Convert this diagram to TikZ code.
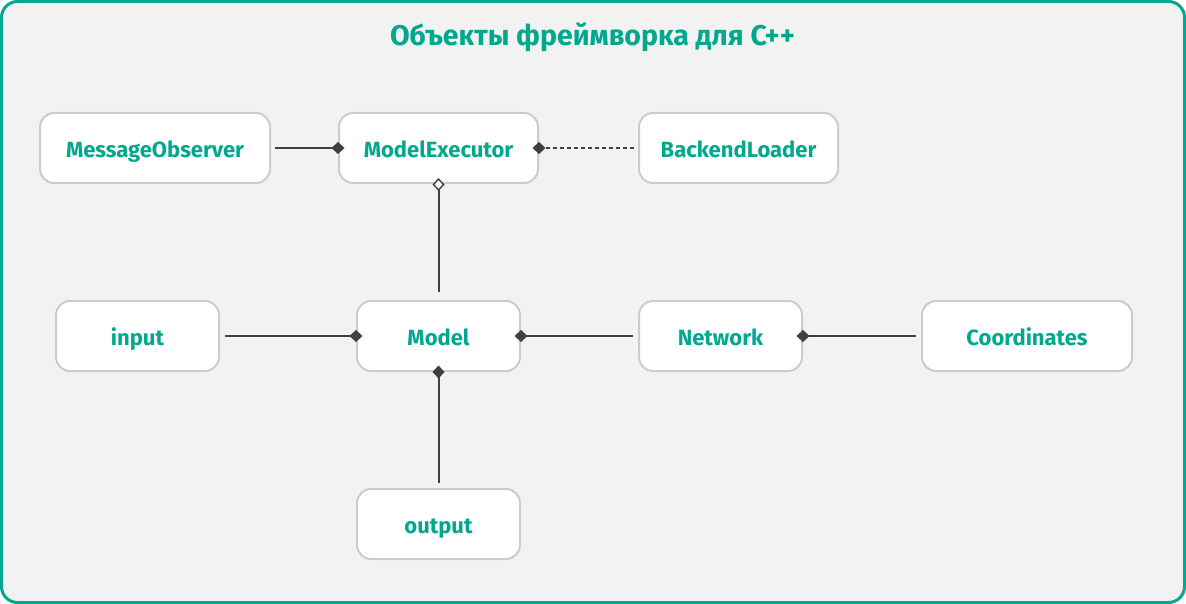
\documentclass[tikz,border=0pt]{standalone}
\usepackage{fontspec}
\setmainfont{Fira Sans}
\usetikzlibrary{arrows.meta}
\definecolor{teal}{HTML}{00A88E}
\definecolor{bgc}{HTML}{F2F2F2}
\definecolor{boxline}{HTML}{CCCCCC}
\definecolor{conncol}{HTML}{404040}
\tikzset{
  box/.style={draw=boxline, line width=2pt, fill=white, rounded corners=14pt,
    inner sep=0pt, text=teal, font=\fontsize{22}{26}\selectfont\bfseries,
    text height=19pt, text depth=0pt},
  conn/.style={draw=conncol, line width=2pt},
  comp/.style={-{Diamond[length=13pt,width=12pt]}, shorten >=-6.5pt},
  aggr/.style={-{Diamond[open,fill=white,length=13pt,width=12pt,line width=1.4pt]}, shorten >=-6pt},
}
\begin{document}
\begin{tikzpicture}[x=1pt,y=-1pt]
\useasboundingbox (0,0) rectangle (1186,604);
\draw[draw=teal, line width=3pt, fill=bgc, rounded corners=16pt] (1.5,1.5) rectangle (1184.5,602.5);
\node[text=teal, font=\fontsize{28.5}{32}\selectfont\bfseries] (title) at (592.5,37) {Объекты фреймворка для C++};
\node[box, minimum width=230pt, minimum height=70pt] (mo) at (155,148) {MessageObserver};
\node[box, minimum width=199pt, minimum height=70pt] (me) at (438.5,148) {ModelExecutor};
\node[box, minimum width=199pt, minimum height=70pt] (bl) at (738.5,148) {BackendLoader};
\node[box, minimum width=163pt, minimum height=70pt] (in) at (137.5,336) {input};
\node[box, minimum width=163pt, minimum height=70pt] (model) at (438.5,336) {Model};
\node[box, minimum width=163pt, minimum height=70pt] (net) at (720.5,336) {Network};
\node[box, minimum width=210pt, minimum height=70pt] (coord) at (1027,336) {Coordinates};
\node[box, minimum width=163pt, minimum height=70pt] (out) at (438.5,524) {output};
\draw[conn, comp, shorten <=4pt] (mo) -- (me);
\draw[conn, comp, dashed, dash pattern=on 4pt off 3pt, shorten <=4pt] (bl) -- (me);
\draw[conn, aggr, shorten <=8pt] (model) -- (me);
\draw[conn, comp, shorten <=5pt] (in) -- (model);
\draw[conn, comp, shorten <=5pt] (net) -- (model);
\draw[conn, comp, shorten <=5pt] (coord) -- (net);
\draw[conn, comp, shorten <=5pt] (out) -- (model);
\end{tikzpicture}
\end{document}
